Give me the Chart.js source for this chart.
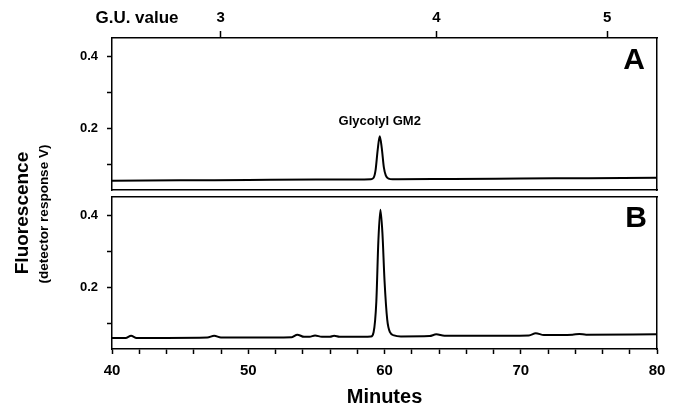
<!DOCTYPE html>
<html>
<head>
<meta charset="utf-8">
<script src="https://cdn.jsdelivr.net/npm/chart.js@4.4.1/dist/chart.umd.min.js"></script>
<style>
  html, body { margin: 0; padding: 0; background: #fff; }
  #wrap { position: relative; width: 678px; height: 412px; }
  #wrap canvas { position: absolute; left: 0; top: 0; }
</style>
</head>
<body>
<div id="wrap">
  <canvas id="chartA" width="678" height="412"></canvas>
  <canvas id="chartB" width="678" height="412"></canvas>
</div>
<script>
// panel A trace (minutes, detector response V)
const minutesA = [40, 45, 50, 55, 58, 59.0, 59.2, 59.35, 59.5, 59.65, 59.8, 59.95, 60.1, 60.3, 60.6, 61, 65, 70, 75, 80];
const fluorA   = [0.054, 0.055, 0.056, 0.057, 0.057, 0.058, 0.062, 0.085, 0.140, 0.178, 0.145, 0.092, 0.068, 0.060, 0.058, 0.058, 0.059, 0.060, 0.061, 0.062];

// panel B trace
const minutesB = [40, 41.0, 41.4, 41.8, 44, 47.0, 47.5, 48.0, 50, 53.2, 53.6, 54.1, 54.5, 54.9, 55.4, 56.0, 56.3, 56.7, 58.5,
                  59.0, 59.2, 59.4, 59.55, 59.7, 59.85, 60.0, 60.2, 60.4, 60.7, 61.2, 63.3, 63.8, 64.4, 67, 70.6, 71.1, 71.7,
                  73.8, 74.3, 74.8, 80];
const fluorB   = [0.059, 0.059, 0.065, 0.059, 0.059, 0.060, 0.065, 0.060, 0.060, 0.061, 0.068, 0.062, 0.062, 0.066, 0.062, 0.062, 0.065, 0.062, 0.062,
                  0.063, 0.075, 0.160, 0.330, 0.417, 0.350, 0.220, 0.110, 0.075, 0.066, 0.063, 0.064, 0.069, 0.065, 0.065, 0.066, 0.072, 0.067,
                  0.068, 0.070, 0.068, 0.069];

// G.U. value scale on top (position in minutes)
const guMinutes = [47.97, 63.81, 76.34];
const guLabels = ['3', '4', '5'];

const yTickValues = [0.1, 0.2, 0.3, 0.4];
const yLabelled = [0.2, 0.4];
const xLabelled = [40, 50, 60, 70, 80];

const peakLabel = 'Glycolyl GM2';
const peakMinute = 59.65;
const peakValue = 0.178;

const FONT = "'Liberation Sans', Arial, sans-serif";
const yMin = 0.028, yMax = 0.4525;

function points(xs, ys) {
  return xs.map((x, i) => ({ x: x, y: ys[i] }));
}

function makeTextPlugin(items) {
  return {
    id: 'panelText',
    afterDraw(chart) {
      const ctx = chart.ctx;
      items.forEach(it => {
        const pos = it.at(chart);
        ctx.save();
        ctx.translate(pos.x, pos.y);
        if (it.rotate) ctx.rotate(it.rotate);
        ctx.font = it.font;
        ctx.fillStyle = '#000';
        ctx.textAlign = 'center';
        ctx.textBaseline = 'middle';
        ctx.fillText(it.text, 0, 0);
        ctx.restore();
      });
    }
  };
}

const borderOpts = { display: true, color: '#000', width: 1.5 };
const noTicks = { display: false };
const plainGrid = { display: true, drawOnChartArea: false, drawTicks: false };

function yAxis() {
  return {
    position: 'left',
    min: yMin,
    max: yMax,
    afterBuildTicks: s => { s.ticks = yTickValues.map(v => ({ value: v })); },
    ticks: {
      callback: v => yLabelled.includes(v) ? v.toFixed(1) : '',
      color: '#000',
      padding: 9,
      font: { family: FONT, size: 13, weight: 'bold' }
    },
    grid: { drawOnChartArea: false, drawTicks: true, tickLength: 5, tickColor: '#000', tickWidth: 1.5 },
    border: borderOpts,
    afterFit: s => { s.width = 112; }
  };
}

function rightAxis() {
  return {
    position: 'right',
    ticks: noTicks,
    grid: plainGrid,
    border: borderOpts,
    afterFit: s => { s.width = 21; }
  };
}

function lineDataset(data) {
  return {
    data: data,
    borderColor: '#000',
    borderWidth: 2,
    pointRadius: 0,
    fill: false,
    cubicInterpolationMode: 'monotone'
  };
}

const baseOptions = {
  responsive: false,
  animation: false,
  layout: { padding: 0 },
  plugins: { legend: { display: false }, tooltip: { enabled: false } }
};

new Chart(document.getElementById('chartA'), {
  type: 'line',
  data: { datasets: [lineDataset(points(minutesA, fluorA))] },
  options: {
    ...baseOptions,
    scales: {
      x: {
        type: 'linear', position: 'bottom', min: 40, max: 80,
        ticks: noTicks, grid: plainGrid, border: borderOpts,
        afterFit: s => { s.height = 412 - 190; }
      },
      gu: {
        type: 'linear', position: 'top', min: 40, max: 80,
        afterBuildTicks: s => { s.ticks = guMinutes.map(v => ({ value: v })); },
        ticks: {
          callback: (v, i) => guLabels[i],
          autoSkip: false, maxRotation: 0, color: '#000', padding: 4,
          font: { family: FONT, size: 15, weight: 'bold' }
        },
        grid: { drawOnChartArea: false, drawTicks: true, tickLength: 7, tickColor: '#000', tickWidth: 1.5 },
        border: borderOpts,
        afterFit: s => { s.height = 38; }
      },
      y: yAxis(),
      yr: rightAxis()
    }
  },
  plugins: [makeTextPlugin([
    { text: 'A', font: `bold 30px ${FONT}`, at: c => ({ x: c.chartArea.right - 23, y: c.chartArea.top + 23 }) },
    { text: 'G.U. value', font: `bold 17px ${FONT}`, at: c => ({ x: 137, y: 18 }) },
    { text: peakLabel, font: `bold 13px ${FONT}`,
      at: c => ({ x: c.scales.x.getPixelForValue(peakMinute), y: c.scales.y.getPixelForValue(peakValue) - 15 }) }
  ])]
});

new Chart(document.getElementById('chartB'), {
  type: 'line',
  data: { datasets: [lineDataset(points(minutesB, fluorB))] },
  options: {
    ...baseOptions,
    scales: {
      x: {
        type: 'linear', position: 'bottom', min: 40, max: 80,
        ticks: {
          stepSize: 2, autoSkip: false, maxRotation: 0, color: '#000', padding: 8,
          callback: v => xLabelled.includes(v) ? String(v) : '',
          font: { family: FONT, size: 15, weight: 'bold' }
        },
        grid: { drawOnChartArea: false, drawTicks: true, tickLength: 5, tickColor: '#000', tickWidth: 1.5 },
        border: borderOpts,
        title: {
          display: true, text: 'Minutes', color: '#000',
          padding: { top: 0, bottom: 3 },
          font: { family: FONT, size: 20, weight: 'bold' }
        },
        afterFit: s => { s.height = 412 - 349; }
      },
      top: {
        type: 'linear', position: 'top', min: 40, max: 80,
        ticks: noTicks, grid: plainGrid, border: borderOpts,
        afterFit: s => { s.height = 197; }
      },
      y: yAxis(),
      yr: rightAxis()
    }
  },
  plugins: [makeTextPlugin([
    { text: 'B', font: `bold 30px ${FONT}`, at: c => ({ x: c.chartArea.right - 21, y: c.chartArea.top + 22 }) },
    { text: 'Fluorescence', font: `bold 19px ${FONT}`, rotate: -Math.PI / 2, at: c => ({ x: 23, y: 213 }) },
    { text: '(detector response V)', font: `bold 13.5px ${FONT}`, rotate: -Math.PI / 2, at: c => ({ x: 44, y: 214 }) }
  ])]
});
</script>
</body>
</html>
